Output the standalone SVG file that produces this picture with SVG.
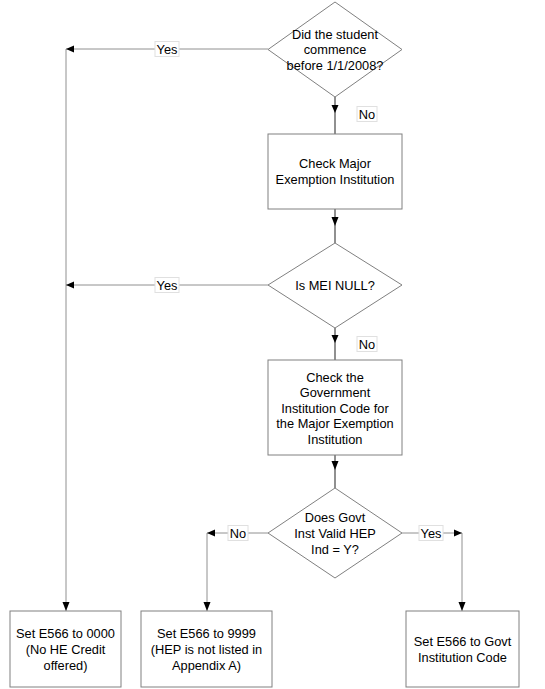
<svg xmlns="http://www.w3.org/2000/svg" width="545" height="689" viewBox="0 0 545 689">
<style>
.shape{fill:#fff;stroke:#808080;stroke-width:1}
.t{font-family:"Liberation Sans",Arial,sans-serif;font-size:12.8px;fill:#000;text-anchor:middle}
.ln{fill:none;stroke:#909090;stroke-width:1}
.lnm{fill:none;stroke:#909090;stroke-width:2}
.ah{fill:#000}
.lb{fill:#fff;stroke:#e0e0e0;stroke-width:1}
</style>
<rect width="545" height="689" fill="#fff"/>
<g id="connectors">
<path class="lnm" d="M335,97 V134"/>
<path class="lnm" d="M335,209 V243"/>
<path class="lnm" d="M335,328 V360"/>
<path class="lnm" d="M335,455 V488"/>
<path class="ln" d="M268,49 H66 V611"/>
<path class="ln" d="M268,285 H66"/>
<path class="ln" d="M268,533 H207 V611"/>
<path class="ln" d="M402,533 H462 V611"/>
<polygon class="ah" points="331.5,105 338.5,105 335,113"/>
<polygon class="ah" points="331.5,217 338.5,217 335,226"/>
<polygon class="ah" points="331.5,335 338.5,335 335,343"/>
<polygon class="ah" points="331.5,461 338.5,461 335,470"/>
<polygon class="ah" points="66,49 74,45.5 74,52.5"/>
<polygon class="ah" points="66,285 74,281.5 74,288.5"/>
<polygon class="ah" points="207,533 215,529.5 215,536.5"/>
<polygon class="ah" points="462,533 454,529.5 454,536.5"/>
<polygon class="ah" points="62.5,602 69.5,602 66,611"/>
<polygon class="ah" points="203.5,602 210.5,602 207,611"/>
<polygon class="ah" points="458.5,602 465.5,602 462,611"/>
<rect class="lb" x="155" y="41.5" width="24" height="15"/>
<text class="t" x="167" y="53.5">Yes</text>
<rect class="lb" x="155" y="277.5" width="24" height="15"/>
<text class="t" x="167" y="289.5">Yes</text>
<rect class="lb" x="357" y="106.5" width="20" height="15"/>
<text class="t" x="367" y="118.5">No</text>
<rect class="lb" x="357" y="336.5" width="20" height="15"/>
<text class="t" x="367" y="348.5">No</text>
<rect class="lb" x="228" y="525.5" width="20" height="15"/>
<text class="t" x="238" y="537.5">No</text>
<rect class="lb" x="419" y="525.5" width="24" height="15"/>
<text class="t" x="431" y="537.5">Yes</text>
</g>
<g id="d1">
<polygon class="shape" points="335,2 402,49.5 335,97 268,49.5"/>
<text class="t" x="335" y="38.5">Did the student</text>
<text class="t" x="335" y="54">commence</text>
<text class="t" x="335" y="69.5">before 1/1/2008?</text>
</g>
<g id="b1">
<rect class="shape" x="268" y="134" width="134" height="75"/>
<text class="t" x="335" y="168">Check Major</text>
<text class="t" x="335" y="184">Exemption Institution</text>
</g>
<g id="d2">
<polygon class="shape" points="335,243 402,285 335,328 268,285"/>
<text class="t" x="335" y="289.5">Is MEI NULL?</text>
</g>
<g id="b2">
<rect class="shape" x="268" y="360" width="134" height="95"/>
<text class="t" x="335" y="381.5">Check the</text>
<text class="t" x="335" y="397">Government</text>
<text class="t" x="335" y="412.5">Institution Code for</text>
<text class="t" x="335" y="428">the Major Exemption</text>
<text class="t" x="335" y="443.5">Institution</text>
</g>
<g id="d3">
<polygon class="shape" points="335,488 402,533 335,578 268,533"/>
<text class="t" x="335" y="521.5">Does Govt</text>
<text class="t" x="335" y="537.5">Inst Valid HEP</text>
<text class="t" x="335" y="553.5">Ind = Y?</text>
</g>
<g id="b3">
<rect class="shape" x="10" y="611" width="111" height="76"/>
<text class="t" x="65.5" y="637.5">Set E566 to 0000</text>
<text class="t" x="65.5" y="653.5">(No HE Credit</text>
<text class="t" x="65.5" y="669.5">offered)</text>
</g>
<g id="b4">
<rect class="shape" x="141" y="611" width="131" height="76"/>
<text class="t" x="206.5" y="637.5">Set E566 to 9999</text>
<text class="t" x="206.5" y="653.5">(HEP is not listed in</text>
<text class="t" x="206.5" y="669.5">Appendix A)</text>
</g>
<g id="b5">
<rect class="shape" x="406" y="611" width="113" height="76"/>
<text class="t" x="462.5" y="645.5">Set E566 to Govt</text>
<text class="t" x="462.5" y="661.5">Institution Code</text>
</g>
</svg>
